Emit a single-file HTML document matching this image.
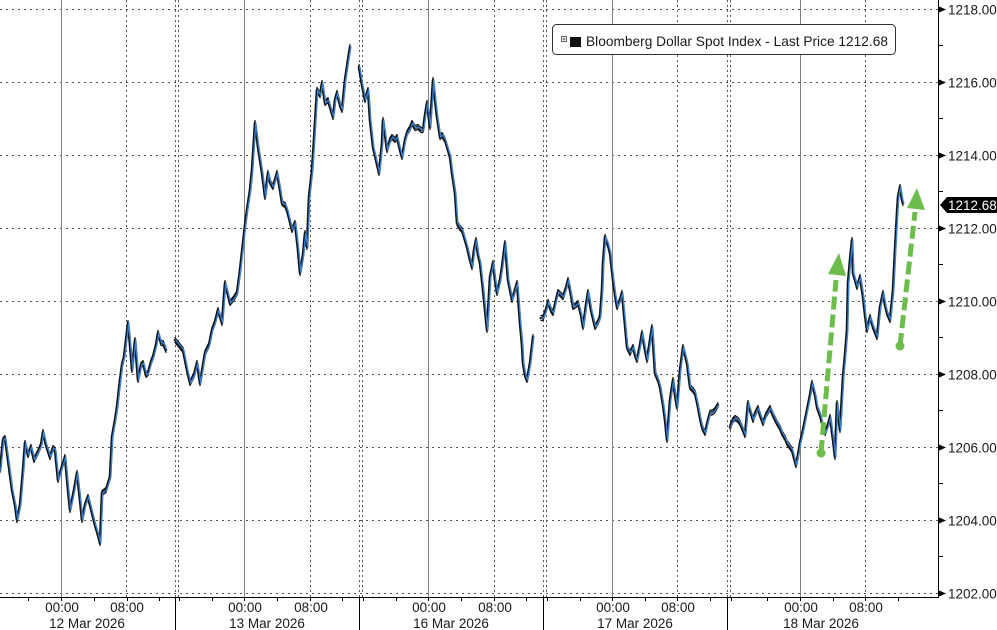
<!DOCTYPE html>
<html><head><meta charset="utf-8"><style>
html,body{margin:0;padding:0;background:#fff;}
svg{display:block;}
text{font-family:"Liberation Sans",Tahoma,sans-serif;fill:#1a1a1a;}
</style></head><body>
<svg width="997" height="630" viewBox="0 0 997 630" xmlns="http://www.w3.org/2000/svg">
<defs>
<g id="s">
<polyline points="0,470 3,440 5,438 8,460 12,490 15,505 17,520 20,505 23,470 25,443 28,455 31,447 34,460 38,452 41,445 43,432 46,445 50,457 53,448 55,450 58,480 61,470 65,457 68,490 70,510 74,490 77,473 80,500 82,520 85,505 88,497 90,505 92,513 95,525 98,535 100,543 102,493 106,490 110,477 112,437 115,420 117,407 120,380 122,365 124,357 126,340 128,323 130,345 132,370 135,340 138,380 141,365 143,363 146,375 148,373 151,362 153,357 156,345 158,333 161,343 163,343 166,350"/>
<polyline points="175,340 179,345 183,350 187,370 190,383 194,375 197,363 200,383 203,365 205,353 209,345 212,330 215,322 218,310 222,323 225,283 228,295 230,303 234,298 237,293 240,270 243,243 245,225 247,210 250,190 252,170 255,123 258,147 260,160 262,173 265,197 268,173 270,182 273,187 277,173 280,190 282,203 285,205 287,210 290,222 292,230 295,223 298,250 300,273 303,255 305,233 307,247 309,197 312,170 314,140 315,123 317,90 320,95 322,83 325,103 328,100 330,107 333,117 335,100 337,93 340,105 342,110 345,80 348,60 350,47"/>
<polyline points="359,67 362,85 365,100 368,90 370,120 373,147 376,160 379,173 382,143 383,120 387,150 390,140 392,137 395,140 397,137 400,150 402,157 405,140 407,133 410,128 412,123 415,128 418,127 421,130 423,130 425,115 427,103 430,127 433,80 435,100 437,117 440,137 442,135 445,140 448,150 450,157 452,173 455,193 457,223 460,228 462,230 465,240 467,247 470,260 472,267 474,250 476,240 478,255 480,263 483,290 485,310 487,330 490,277 493,263 495,280 497,293 500,280 502,267 505,243 508,280 510,290 512,300 515,290 517,283 520,323 522,345 523,363 525,375 527,380 530,363 533,337"/>
<polyline points="541,318 543,318 546,310 548,302 551,310 553,313 556,300 558,292 561,295 563,297 566,288 568,280 571,295 573,307 576,305 578,303 581,315 583,327 586,305 588,292 591,310 595,327 598,322 600,317 602,290 603,263 605,237 608,245 610,253 613,280 615,295 617,307 620,300 622,293 625,325 627,347 630,353 633,347 635,355 637,360 640,345 642,333 645,350 647,360 650,340 652,327 655,373 658,380 660,387 663,405 665,420 667,440 670,400 673,380 675,395 677,407 680,370 683,347 685,355 687,363 690,387 693,390 695,393 698,407 700,418 702,427 705,433 708,420 710,413 713,412 715,410 718,405"/>
<polyline points="730,427 733,420 735,418 738,420 740,423 743,430 745,435 748,403 750,410 753,420 755,414 758,408 760,415 763,423 766,415 770,408 773,415 777,423 780,428 782,433 785,438 787,443 790,447 792,450 794,458 796,465 798,455 800,443 803,430 805,420 807,410 810,395 812,383 815,395 817,407 820,415 822,423 825,433 828,425 830,417 833,440 835,457 837,403 840,430 843,377 845,355 847,330 848,283 850,260 852,240 853,273 855,280 857,287 860,277 863,297 865,315 867,330 870,317 873,327 875,332 877,337 880,307 883,293 885,305 887,313 890,320 892,300 893,290 895,250 897,213 898,197 900,187 902,200 903,203"/>
</g>
</defs>
<rect width="997" height="630" fill="#fff"/>
<!-- horizontal dotted grid -->
<g stroke="#555" stroke-width="1" stroke-dasharray="2,4">
<line x1="0" y1="9.5" x2="938" y2="9.5"/>
<line x1="0" y1="82.5" x2="938" y2="82.5"/>
<line x1="0" y1="155.5" x2="938" y2="155.5"/>
<line x1="0" y1="228.5" x2="938" y2="228.5"/>
<line x1="0" y1="301.5" x2="938" y2="301.5"/>
<line x1="0" y1="374.5" x2="938" y2="374.5"/>
<line x1="0" y1="447.5" x2="938" y2="447.5"/>
<line x1="0" y1="520.5" x2="938" y2="520.5"/>
<line x1="0" y1="593.5" x2="938" y2="593.5"/>
</g>
<!-- vertical dotted grid -->
<g stroke="#555" stroke-width="1" stroke-dasharray="2,3">
<line x1="126.5" y1="0" x2="126.5" y2="597"/>
<line x1="310.5" y1="0" x2="310.5" y2="597"/>
<line x1="494.5" y1="0" x2="494.5" y2="597"/>
<line x1="677.5" y1="0" x2="677.5" y2="597"/>
<line x1="865.5" y1="0" x2="865.5" y2="597"/>
<line x1="175.5" y1="0" x2="175.5" y2="597"/>
<line x1="178.5" y1="0" x2="178.5" y2="597"/>
<line x1="359.5" y1="0" x2="359.5" y2="597"/>
<line x1="362.5" y1="0" x2="362.5" y2="597"/>
<line x1="543.5" y1="0" x2="543.5" y2="597"/>
<line x1="546.5" y1="0" x2="546.5" y2="597"/>
<line x1="727.5" y1="0" x2="727.5" y2="597"/>
<line x1="730.5" y1="0" x2="730.5" y2="597"/>
</g>
<!-- solid day lines -->
<g stroke="#808080" stroke-width="1">
<line x1="61.5" y1="0" x2="61.5" y2="597"/>
<line x1="244.5" y1="0" x2="244.5" y2="597"/>
<line x1="428.5" y1="0" x2="428.5" y2="597"/>
<line x1="612.5" y1="0" x2="612.5" y2="597"/>
<line x1="800.5" y1="0" x2="800.5" y2="597"/>
</g>

<!-- series -->
<g fill="none" stroke-linejoin="round" stroke-linecap="round">
<use href="#s" transform="translate(0,-2.5)" stroke="#111" stroke-width="1.2"/>
<use href="#s" transform="translate(0,2.5)" stroke="#111" stroke-width="1.2"/>
<use href="#s" stroke="#111" stroke-width="2.6"/>
<use href="#s" transform="translate(0.8,0)" stroke="#3c7fcc" stroke-width="1.4"/>
</g>

<!-- green arrows -->
<g fill="#6cbd4b" stroke="none">
<line x1="821" y1="453" x2="836" y2="280" stroke="#6cbd4b" stroke-width="5" stroke-dasharray="13,5"/>
<circle cx="821" cy="453" r="4.5"/>
<polygon points="839,253 846,276 828,274"/>
<line x1="900" y1="346" x2="915" y2="212" stroke="#6cbd4b" stroke-width="5" stroke-dasharray="13,5"/>
<circle cx="900" cy="346" r="4.5"/>
<polygon points="917,188 925,210 907,208"/>
</g>

<!-- legend -->
<rect x="552.5" y="24.5" width="343" height="30" rx="4" ry="4" fill="#fff" stroke="#333" stroke-width="1"/>
<rect x="561.5" y="36.5" width="5" height="5" fill="#fff" stroke="#666" stroke-width="1"/>
<line x1="562.5" y1="39" x2="565.5" y2="39" stroke="#666" stroke-width="1"/>
<line x1="564" y1="37.5" x2="564" y2="40.5" stroke="#666" stroke-width="1"/>
<rect x="570" y="37" width="11" height="10" fill="#111"/>
<text x="586" y="46" font-size="14" textLength="302" lengthAdjust="spacingAndGlyphs">Bloomberg Dollar Spot Index - Last Price 1212.68</text>

<!-- right axis -->
<line x1="938.5" y1="0" x2="938.5" y2="597" stroke="#000" stroke-width="1"/>
<g stroke="#000" stroke-width="1">
<line x1="938" y1="45.5" x2="943" y2="45.5"/>
<line x1="938" y1="118.5" x2="943" y2="118.5"/>
<line x1="938" y1="191.5" x2="943" y2="191.5"/>
<line x1="938" y1="264.5" x2="943" y2="264.5"/>
<line x1="938" y1="337.5" x2="943" y2="337.5"/>
<line x1="938" y1="410.5" x2="943" y2="410.5"/>
<line x1="938" y1="483.5" x2="943" y2="483.5"/>
<line x1="938" y1="556.5" x2="943" y2="556.5"/>
</g>
<g fill="#000">
<polygon points="939,6.5 946,9.5 939,12.5"/>
<polygon points="939,79.5 946,82.5 939,85.5"/>
<polygon points="939,152.5 946,155.5 939,158.5"/>
<polygon points="939,225.5 946,228.5 939,231.5"/>
<polygon points="939,298.5 946,301.5 939,304.5"/>
<polygon points="939,371.5 946,374.5 939,377.5"/>
<polygon points="939,444.5 946,447.5 939,450.5"/>
<polygon points="939,517.5 946,520.5 939,523.5"/>
<polygon points="939,590.5 946,593.5 939,596.5"/>
</g>
<g font-size="13.5">
<text x="948" y="14.5">1218.00</text>
<text x="948" y="87.5">1216.00</text>
<text x="948" y="160.5">1214.00</text>
<text x="948" y="233.5">1212.00</text>
<text x="948" y="306.5">1210.00</text>
<text x="948" y="379.5">1208.00</text>
<text x="948" y="452.5">1206.00</text>
<text x="948" y="525.5">1204.00</text>
<text x="948" y="598.5">1202.00</text>
</g>
<polygon points="940,205 947,197 997,197 997,213 947,213" fill="#000"/>
<text x="948" y="210" font-size="13.5" style="fill:#fff">1212.68</text>

<!-- x axis -->
<line x1="0" y1="597.5" x2="939" y2="597.5" stroke="#000" stroke-width="1"/>
<g stroke="#000" stroke-width="1">
<line x1="28.5" y1="597" x2="28.5" y2="601"/>
<line x1="61.5" y1="597" x2="61.5" y2="601"/>
<line x1="94.5" y1="597" x2="94.5" y2="601"/>
<line x1="127.5" y1="597" x2="127.5" y2="601"/>
<line x1="159.5" y1="597" x2="159.5" y2="601"/>
<line x1="179.5" y1="597" x2="179.5" y2="601"/>
<line x1="212.5" y1="597" x2="212.5" y2="601"/>
<line x1="244.5" y1="597" x2="244.5" y2="601"/>
<line x1="277.5" y1="597" x2="277.5" y2="601"/>
<line x1="310.5" y1="597" x2="310.5" y2="601"/>
<line x1="342.5" y1="597" x2="342.5" y2="601"/>
<line x1="363.5" y1="597" x2="363.5" y2="601"/>
<line x1="396.5" y1="597" x2="396.5" y2="601"/>
<line x1="428.5" y1="597" x2="428.5" y2="601"/>
<line x1="461.5" y1="597" x2="461.5" y2="601"/>
<line x1="494.5" y1="597" x2="494.5" y2="601"/>
<line x1="526.5" y1="597" x2="526.5" y2="601"/>
<line x1="547.5" y1="597" x2="547.5" y2="601"/>
<line x1="580.5" y1="597" x2="580.5" y2="601"/>
<line x1="612.5" y1="597" x2="612.5" y2="601"/>
<line x1="645.5" y1="597" x2="645.5" y2="601"/>
<line x1="677.5" y1="597" x2="677.5" y2="601"/>
<line x1="710.5" y1="597" x2="710.5" y2="601"/>
<line x1="731.5" y1="597" x2="731.5" y2="601"/>
<line x1="767.5" y1="597" x2="767.5" y2="601"/>
<line x1="800.5" y1="597" x2="800.5" y2="601"/>
<line x1="833.5" y1="597" x2="833.5" y2="601"/>
<line x1="865.5" y1="597" x2="865.5" y2="601"/>
<line x1="898.5" y1="597" x2="898.5" y2="601"/>
<line x1="175.5" y1="597" x2="175.5" y2="630"/>
<line x1="359.5" y1="597" x2="359.5" y2="630"/>
<line x1="543.5" y1="597" x2="543.5" y2="630"/>
<line x1="727.5" y1="597" x2="727.5" y2="630"/>
</g>
<g font-size="13.5" text-anchor="middle">
<text x="62" y="612">00:00</text>
<text x="127" y="612">08:00</text>
<text x="245" y="612">00:00</text>
<text x="311" y="612">08:00</text>
<text x="429" y="612">00:00</text>
<text x="495" y="612">08:00</text>
<text x="613" y="612">00:00</text>
<text x="678" y="612">08:00</text>
<text x="801" y="612">00:00</text>
<text x="866" y="612">08:00</text>
<text x="87" y="628">12 Mar 2026</text>
<text x="267" y="628">13 Mar 2026</text>
<text x="451" y="628">16 Mar 2026</text>
<text x="635" y="628">17 Mar 2026</text>
<text x="821" y="628">18 Mar 2026</text>
</g>
</svg>
</body></html>
